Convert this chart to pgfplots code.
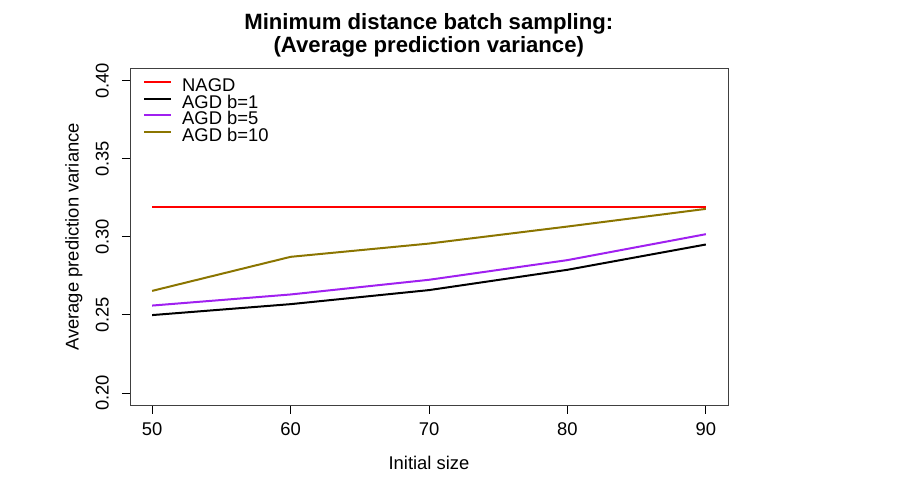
\documentclass[border=0pt]{standalone}
\usepackage{pgfplots}
\pgfplotsset{compat=1.18}
\usepackage{fontspec}
\setmainfont{Liberation Sans}
\definecolor{rpurple}{HTML}{A020F0}
\definecolor{rgold}{HTML}{8B7500}

\begin{document}
\begin{tikzpicture}
\path[use as bounding box] (0,0) rectangle (684.75pt,369pt);
\begin{axis}[
  at={(97.5pt,64.875pt)}, anchor=south west,
  scale only axis,
  width=448.5pt, height=252.975pt,
  xmin=48.4, xmax=91.6,
  ymin=0.192, ymax=0.408,
  xtick={50,60,70,80,90},
  ytick={0.20,0.25,0.30,0.35,0.40},
  yticklabel style={/pgf/number format/.cd,fixed,fixed zerofill,precision=2,/tikz/.cd},
  /pgf/number format/assume math mode=true,
  tick align=outside,
  major tick length=6pt,
  tick style={black, line width=0.75pt},
  axis line style={black!75, line width=0.75pt},
  xtick pos=bottom, ytick pos=left,
  ticklabel style={font=\fontsize{13.8}{16}\selectfont, inner sep=0pt},
  xticklabel style={anchor=base, yshift=-16.65pt},
  yticklabel style={rotate=90, anchor=base, yshift=10pt},
  legend style={at={(0,1)}, anchor=north west, xshift=9.75pt, yshift=-8.1pt,
    draw=none, fill=none, inner sep=0pt, row sep=0pt, column sep=7.7pt,
    nodes={inner sep=0pt, text height=9.5pt, text depth=2.8pt, font=\fontsize{13.8}{16}\selectfont}},
  legend cell align=left,
  legend image code/.code={\draw[#1] (0pt,3.75pt) -- (20pt,3.75pt);},
  every axis plot/.append style={line width=1.5pt},
]
\addplot[red] coordinates {(50,0.319) (60,0.319) (70,0.319) (80,0.319) (90,0.319)};
\addplot[black] coordinates {(50,0.2499) (60,0.2569) (70,0.2659) (80,0.2789) (90,0.2951)};
\addplot[rpurple] coordinates {(50,0.2560) (60,0.2631) (70,0.2725) (80,0.2851) (90,0.3017)};
\addplot[rgold] coordinates {(50,0.2654) (60,0.2872) (70,0.2957) (80,0.3066) (90,0.3179)};
\legend{NAGD, AGD b=1, AGD b=5, AGD b=10}
\end{axis}
\node[anchor=base, font=\fontsize{16.6}{19}\selectfont\bfseries] at (321.6pt,347.0pt) {Minimum distance batch sampling:};
\node[anchor=base, font=\fontsize{16.6}{19}\selectfont\bfseries] at (321.6pt,329.5pt) {(Average prediction variance)};
\node[anchor=base, font=\fontsize{13.8}{16}\selectfont] at (321.75pt,17.0pt) {Initial size};
\node[anchor=base, rotate=90, font=\fontsize{13.8}{16}\selectfont] at (58.9pt,191.3pt) {Average prediction variance};
\end{tikzpicture}
\end{document}
